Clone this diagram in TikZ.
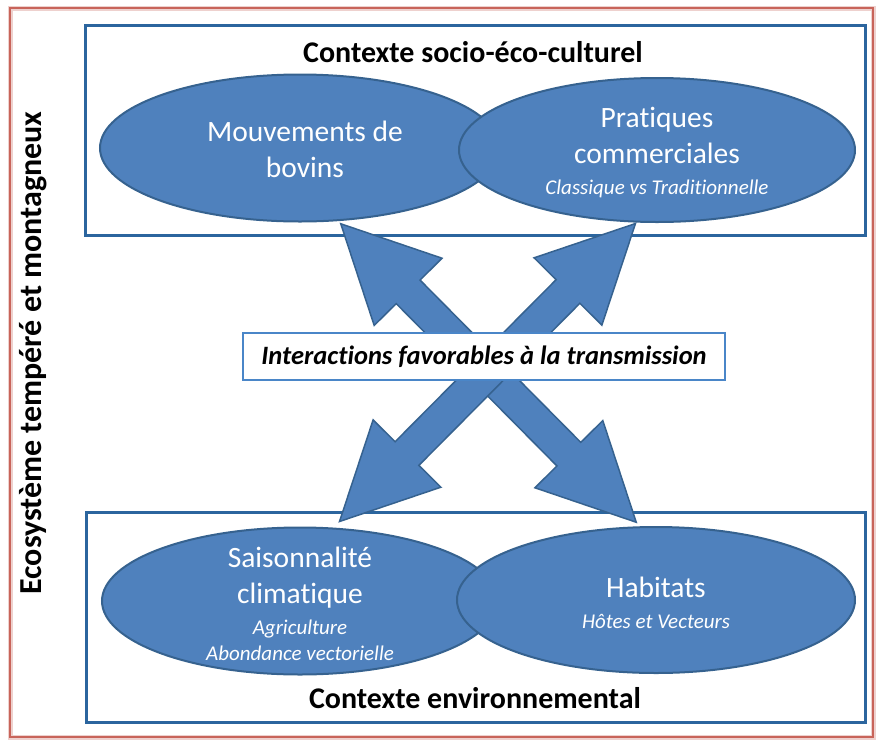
\documentclass[tikz,border=0pt]{standalone}
\usepackage{fontspec}
\setmainfont{Carlito}[Ligatures=NoCommon]
\usetikzlibrary{positioning,calc,shapes,shapes.geometric,shapes.arrows}
\definecolor{ovalfill}{HTML}{4F81BD}
\definecolor{ovalline}{HTML}{36628F}
\definecolor{boxline}{HTML}{2B659E}
\definecolor{midline}{HTML}{4A86C8}
\definecolor{frameline}{HTML}{C8645A}
\newcommand{\subtxt}[1]{{\fontsize{21}{26}\selectfont\itshape #1}}
\tikzset{ctxbox/.style={draw=boxline, line width=3pt, inner sep=0pt}}
\tikzset{ctxlabel/.style={font=\bfseries\fontsize{30}{36}\selectfont, inner sep=0pt}}
\tikzset{oval/.style={ellipse, draw=ovalline, line width=2pt, fill=ovalfill, inner sep=0pt}}
\tikzset{ovaltext/.style={text=white, align=center, inner sep=0pt, font=\fontsize{29.5}{36}\selectfont}}
\tikzset{bigarr/.style={double arrow, draw=ovalline, line width=1.5pt, fill=ovalfill, inner sep=0pt, inner ysep=16pt, double arrow head extend=31pt, double arrow tip angle=53, minimum height=420pt}}
\tikzset{midbox/.style={draw=midline, line width=2.5pt, fill=white, minimum width=482pt, minimum height=47pt, inner sep=0pt, font=\bfseries\itshape\fontsize{26.5}{32}\selectfont}}

\begin{document}
\begin{tikzpicture}[x=1pt, y=-1pt]
	\useasboundingbox (0,0) rectangle (876,740);
	% outer frame
	\draw[frameline!30, line width=5pt] (10,8) rectangle (873,737);
	\draw[frameline, line width=1.5pt] (10,8) rectangle (873,737);
	\node[ctxlabel, font=\bfseries\fontsize{32}{36}\selectfont, rotate=90] (eco) at (33,353) {Ecosystème tempéré et montagneux};
	%
	\node[ctxbox, minimum width=780pt, minimum height=210pt] (socio) at (475,130) {};
	\node[ctxbox, minimum width=779pt, minimum height=210pt] (envir) at (475.5,617) {};
	\node[ctxlabel] (sociolbl) at (473,52) {Contexte socio-éco-culturel};
	\node[ctxlabel] (envirlbl) at (475,698) {Contexte environnemental};
	%
	\node[oval, minimum width=400pt, minimum height=147pt] (mvt) at (300,148) {};
	\node[oval, minimum width=396pt, minimum height=144pt] (prat) at (657,150) {};
	\node[oval, minimum width=396pt, minimum height=147pt] (sais) at (300,601) {};
	\node[oval, minimum width=398pt, minimum height=146pt] (hab) at (656,600) {};
	\node[ovaltext] (mvttxt) at ([xshift=5pt, yshift=-1pt]mvt.center) {Mouvements de\\bovins};
	\node[ovaltext] (prattxt) at ([yshift=-3pt]prat.center)
		{Pratiques\\commerciales\\[-5pt]\subtxt{Classique vs Traditionnelle}};
	\node[ovaltext] (saistxt) at ([yshift=-3pt]sais.center)
		{Saisonnalité\\climatique\\[-5pt]\subtxt{Agriculture}\\[-10pt]\subtxt{Abondance vectorielle}};
	\node[ovaltext] (habtxt) at ([yshift=-3pt]hab.center)
		{Habitats\\[-5pt]\subtxt{Hôtes et Vecteurs}};
	%
	\coordinate (tl) at (340,223);
	\coordinate (tr) at (636,223);
	\coordinate (bl) at (339,522);
	\coordinate (br) at (637,523);
	\path (tl) -- (br) node[bigarr, midway, sloped] (arrA) {};
	\path (tr) -- (bl) node[bigarr, midway, sloped] (arrB) {};
	%
	\node[midbox] (inter) at (484,356.5) {Interactions favorables à la transmission};
\end{tikzpicture}
\end{document}
